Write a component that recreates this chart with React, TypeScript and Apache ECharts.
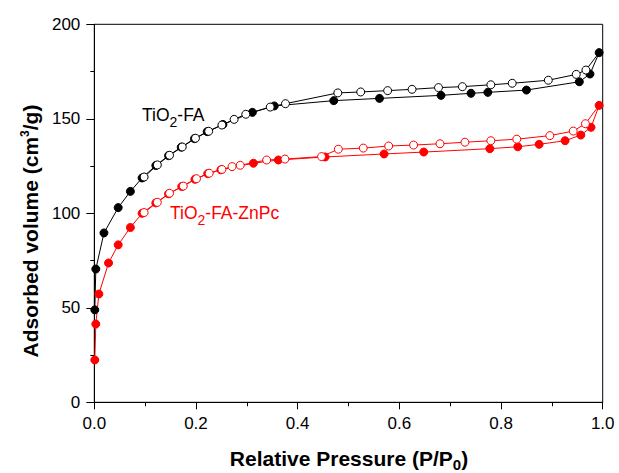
import React, { useEffect, useRef } from "react";
import * as echarts from "echarts";

// TiO2-FA adsorption (filled) and desorption (open)
const faAdsP = [0.001, 0.003, 0.019, 0.047, 0.071, 0.094, 0.121, 0.146, 0.171, 0.197, 0.222, 0.253, 0.311, 0.354, 0.471, 0.561, 0.682, 0.741, 0.774, 0.85, 0.954, 0.975, 0.993];
const faAdsV = [48.9, 70.5, 89.6, 103, 111.6, 118.7, 125.3, 130.5, 135, 139.5, 143.2, 147, 153.4, 156.8, 159.6, 160.8, 162.4, 163.5, 164, 165.2, 169.6, 173.7, 185];
const faDesP = [0.993, 0.967, 0.948, 0.893, 0.822, 0.78, 0.724, 0.677, 0.625, 0.577, 0.524, 0.479, 0.376, 0.346, 0.298, 0.275, 0.251, 0.225, 0.199, 0.173, 0.148, 0.124, 0.098];
const faDesV = [185, 175.8, 173.5, 170.4, 168.8, 168, 167, 166.5, 165.6, 164.9, 164.2, 163.7, 158, 156.2, 152.4, 149.7, 146.7, 143.4, 139.7, 135.1, 130.7, 125.6, 119.2];

// TiO2-FA-ZnPc adsorption (filled) and desorption (open)
const znAdsP = [0.001, 0.003, 0.009, 0.028, 0.047, 0.071, 0.094, 0.121, 0.146, 0.172, 0.198, 0.223, 0.249, 0.313, 0.362, 0.454, 0.57, 0.648, 0.778, 0.833, 0.875, 0.926, 0.957, 0.977, 0.993];
const znAdsV = [22.4, 41.4, 57.3, 73.7, 83.3, 92.5, 100, 105.5, 110.3, 114.2, 118, 121, 123, 126.5, 128.2, 129.8, 131.4, 132.4, 134.2, 135.2, 136.5, 138.4, 141.4, 145.5, 157.1];
const znDesP = [0.993, 0.966, 0.942, 0.896, 0.831, 0.78, 0.729, 0.68, 0.628, 0.579, 0.529, 0.48, 0.447, 0.375, 0.339, 0.287, 0.271, 0.251, 0.226, 0.201, 0.175, 0.148, 0.124, 0.098];
const znDesV = [157.1, 147.4, 143.5, 141.1, 139.2, 138.4, 137.6, 136.8, 136.1, 135.6, 134.5, 133.9, 130, 128.7, 128.2, 125.4, 124.7, 123.2, 121.2, 118.3, 114.4, 110.6, 105.8, 100.4];

const FONT = "'Liberation Sans', Arial, Helvetica, sans-serif";

function zip(xs: number[], ys: number[]) {
  return xs.map((x, i) => [x, ys[i]]);
}

function desData(xs: number[], ys: number[]) {
  // first point is the shared top adsorption point: no marker of its own
  return xs.map((x, i) => (i === 0 ? { value: [x, ys[i]], symbol: "none" } : [x, ys[i]]));
}

function subRich(color: string, size: number, subSize: number, drop: number, bold: boolean) {
  const w = bold ? "bold" : "normal";
  return {
    a: { fontSize: size, lineHeight: size, fontWeight: w, fontFamily: FONT, fill: color, verticalAlign: "top" },
    s: {
      fontSize: subSize,
      lineHeight: subSize,
      fontWeight: w,
      fontFamily: FONT,
      fill: color,
      verticalAlign: "top",
      padding: [drop, 0, 0, 0],
    },
  };
}

export default function App() {
  const ref = useRef<HTMLDivElement>(null);
  useEffect(() => {
    if (!ref.current) return;
    const chart = echarts.init(ref.current, undefined, { renderer: "svg" });
    const lineSeries = (data: any[], color: string, filled: boolean, z: number) => ({
      type: "line",
      data,
      symbol: "circle",
      symbolSize: 8,
      showSymbol: true,
      z,
      lineStyle: { color, width: 1 },
      itemStyle: { color: filled ? color : "#ffffff", borderColor: color, borderWidth: 1 },
      emphasis: { disabled: true },
    });
    chart.setOption({
      animation: false,
      textStyle: { fontFamily: FONT },
      grid: {
        left: 94.3,
        right: 16.3,
        top: 24.3,
        bottom: 70.7,
        show: true,
        borderColor: "#000",
        borderWidth: 1,
      },
      xAxis: {
        type: "value",
        min: 0,
        max: 1,
        interval: 0.2,
        axisLine: { lineStyle: { color: "#000", width: 1 } },
        axisTick: { show: true, length: 7, lineStyle: { color: "#000" } },
        minorTick: { show: true, splitNumber: 2, length: 4, lineStyle: { color: "#000" } },
        splitLine: { show: false },
        axisLabel: {
          color: "#000",
          fontSize: 17,
          fontFamily: FONT,
          margin: 13,
          formatter: (v: number) => v.toFixed(1),
        },
      },
      yAxis: {
        type: "value",
        min: 0,
        max: 200,
        interval: 50,
        axisLine: { show: true, lineStyle: { color: "#000", width: 1 } },
        axisTick: { show: true, length: 8, lineStyle: { color: "#000" } },
        minorTick: { show: true, splitNumber: 2, length: 4, lineStyle: { color: "#000" } },
        splitLine: { show: false },
        axisLabel: { color: "#000", fontSize: 17, fontFamily: FONT, margin: 14 },
      },
      graphic: [
        {
          type: "text",
          x: 30,
          y: 231,
          rotation: Math.PI / 2,
          style: {
            text: "{b|Adsorbed volume (cm}{s|3}{b|/g)}",
            align: "center",
            verticalAlign: "middle",
            rich: {
              b: { fontSize: 21, fontWeight: "bold", fontFamily: FONT, fill: "#000" },
              s: { fontSize: 12, fontWeight: "bold", fontFamily: FONT, fill: "#000", padding: [0, 0, 10, 0] },
            },
          },
        },
        {
          type: "text",
          x: 349,
          y: 448,
          style: {
            text: "{a|Relative Pressure (P/P}{s|0}{a|)}",
            align: "center",
            verticalAlign: "top",
            rich: subRich("#000", 21, 15, 9, true),
          },
        },
        {
          type: "text",
          x: 142,
          y: 106,
          style: {
            text: "{a|TiO}{s|2}{a|-FA}",
            align: "left",
            verticalAlign: "top",
            rich: subRich("#000000", 17.5, 14, 9, false),
          },
        },
        {
          type: "text",
          x: 170,
          y: 204,
          style: {
            text: "{a|TiO}{s|2}{a|-FA-ZnPc}",
            align: "left",
            verticalAlign: "top",
            rich: subRich("#ff0000", 17.5, 14, 9, false),
          },
        },
      ],
      series: [
        lineSeries(zip(faAdsP, faAdsV), "#000000", true, 2),
        lineSeries(desData(faDesP, faDesV), "#000000", false, 3),
        lineSeries(zip(znAdsP, znAdsV), "#ff0000", true, 2),
        lineSeries(desData(znDesP, znDesV), "#ff0000", false, 3),
      ],
    });
    return () => chart.dispose();
  }, []);
  return (
    <div
      ref={ref}
      style={{ position: "absolute", left: 0, top: 0, width: 619, height: 473, background: "#fff" }}
    />
  );
}
